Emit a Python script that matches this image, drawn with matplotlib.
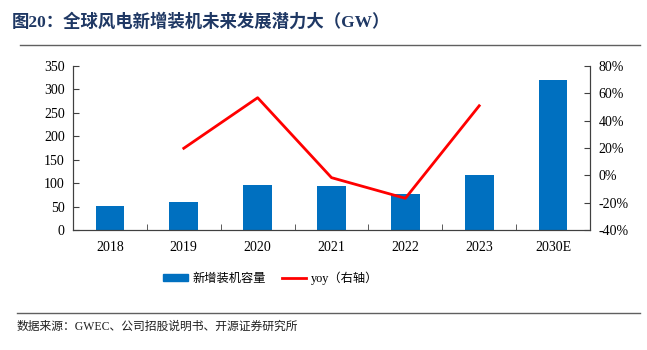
import matplotlib.pyplot as plt
import numpy as np
from matplotlib.lines import Line2D
from matplotlib.patches import Patch
from matplotlib.ticker import FuncFormatter

plt.rcParams['font.family'] = ['Liberation Serif', 'Noto Sans CJK SC', 'DejaVu Sans']
plt.rcParams['axes.unicode_minus'] = False

years = ['2018', '2019', '2020', '2021', '2022', '2023', '2030E']
capacity = [51, 60.4, 95, 93.6, 77.6, 116.6, 320]
yoy = [np.nan, 19.8, 56.8, -1.7, -16.8, 50.9, np.nan]

bar_color = '#0070C0'
line_color = '#FF0000'
fonts = ['Liberation Serif', 'Noto Sans CJK SC', 'DejaVu Sans']

fig = plt.figure(figsize=(6.47, 3.5), dpi=100)
ax = fig.add_axes([73 / 647, 1 - 230 / 350, (590 - 73) / 647, 164 / 350])
ax2 = ax.twinx()

x = np.arange(len(years))
ax.bar(x, capacity, width=0.39, color=bar_color, zorder=2)
ax2.plot(x, yoy, color=line_color, lw=2, zorder=3)

ax.set_xlim(-0.5, len(years) - 0.5)
ax.set_ylim(0, 350)
ax.set_yticks(np.arange(0, 351, 50))
ax2.set_ylim(-40, 80)
ax2.set_yticks(np.arange(-40, 81, 20))
ax2.yaxis.set_major_formatter(FuncFormatter(lambda v, p: f'{v:.0f}%'))

ax.set_xticks(x)
ax.set_xticklabels(years)
ax.set_xticks(np.arange(-0.5, len(years), 1), minor=True)
ax.tick_params(axis='x', which='major', length=0, pad=8, labelsize=10)
ax.tick_params(axis='x', which='minor', direction='in', length=4, color='#404040')
ax.tick_params(axis='y', direction='in', length=4, labelsize=10, color='#404040', pad=6)
ax2.tick_params(axis='y', direction='in', length=4, labelsize=10, color='#404040', pad=6)

for a in (ax, ax2):
    a.spines['top'].set_visible(False)
    for s in ('left', 'right', 'bottom'):
        a.spines[s].set_color('#404040')
        a.spines[s].set_linewidth(0.8)

handles = [Patch(color=bar_color), Line2D([0], [0], color=line_color, lw=2)]
fig.legend(handles, ['新增装机容量', 'yoy（右轴）'], loc='center', bbox_to_anchor=(271 / 647, 1 - 278 / 350),
           ncol=2, frameon=False, prop={'family': fonts, 'size': 8.8},
           handlelength=2.0, handleheight=0.6, columnspacing=1.3, handletextpad=0.4)

fig.text(12 / 647, 1 - 22 / 350, '图20：全球风电新增装机未来发展潜力大（GW）', family=fonts,
         fontsize=12.5, fontweight='bold', color='#1F3864', va='center', ha='left')
fig.add_artist(Line2D([20 / 647, 640 / 647], [1 - 45 / 350] * 2, color='#606060', lw=1))
fig.add_artist(Line2D([17 / 647, 640 / 647], [1 - 313 / 350] * 2, color='#606060', lw=1))
fig.text(17 / 647, 1 - 327 / 350, '数据来源：GWEC、公司招股说明书、开源证券研究所', family=fonts,
         fontsize=8.5, color='#202020', va='center', ha='left')

fig.savefig('out.png', dpi=100)
